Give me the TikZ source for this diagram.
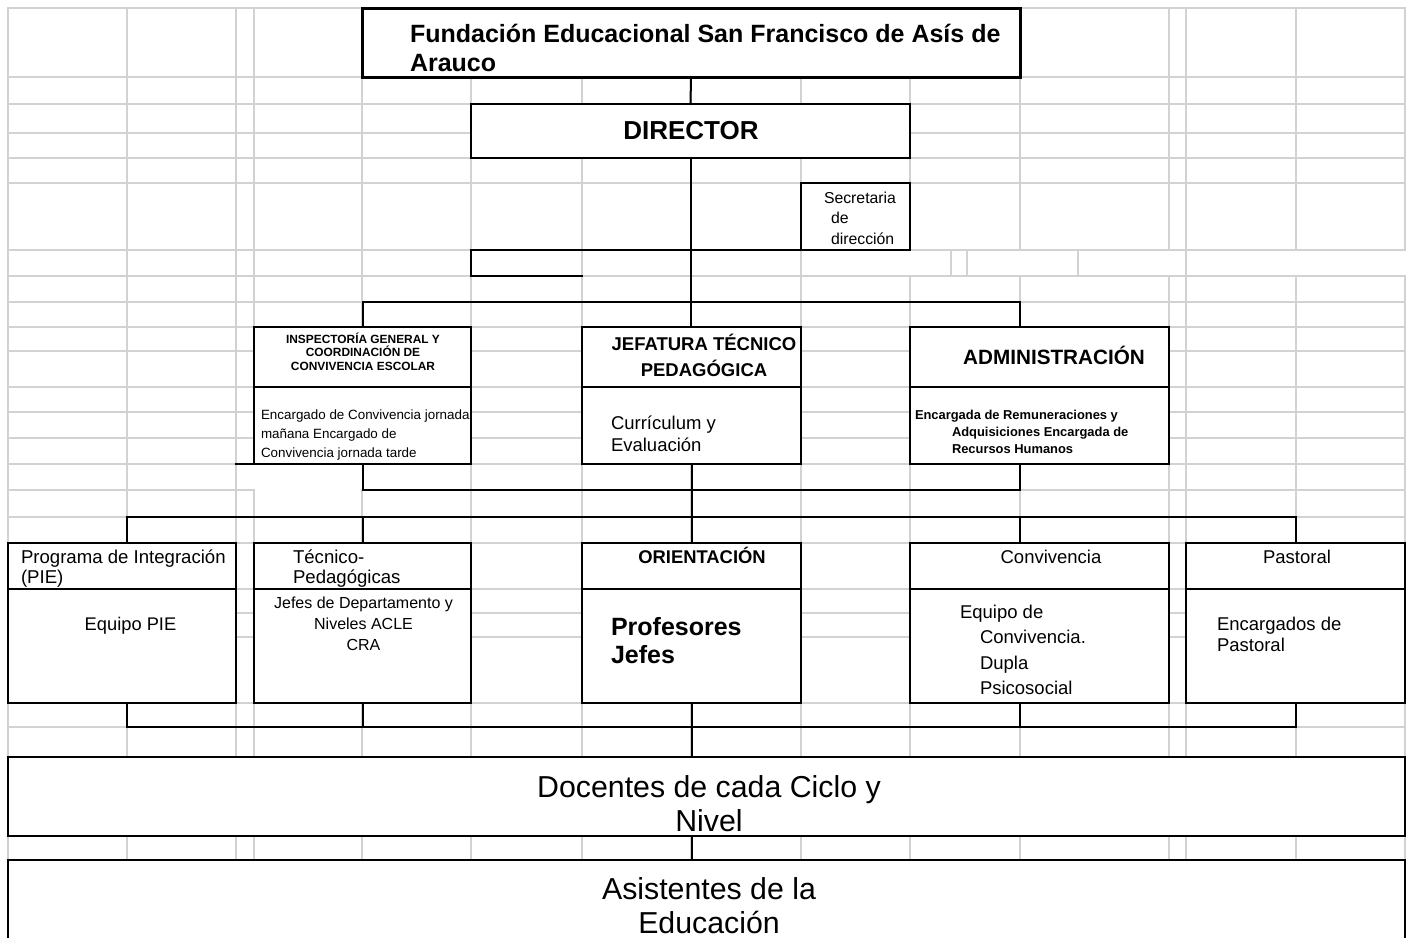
\documentclass[tikz,border=0pt]{standalone}
\usepackage{fontspec}
\setmainfont{Liberation Sans}
\definecolor{gridgray}{RGB}{210,210,210}
\newcommand\fsz[2]{\fontsize{#1}{#2}\selectfont}
\begin{document}
\begin{tikzpicture}[x=1pt,y=-1pt,
  gridline/.style={draw=gridgray, line width=1.3pt, line cap=rect},
  box/.style={draw=black, line width=2pt, fill=white, inner sep=0pt, outer sep=0pt, anchor=north west},
  conn/.style={draw=black, line width=2pt, line cap=rect},
  lbl/.style={inner sep=0pt, outer sep=0pt, text=black},
]
\useasboundingbox (0,0) rectangle (1410,937);
\clip (0,0) rectangle (1410,937);
\fill[white] (0,0) rectangle (1410,937);
% spreadsheet grid
\foreach \r in {8,77,104,133,158,183,250,276,302,327,351,387,412,438,464,490,517,543,589,613,637,703,727}
  \draw[gridline] (8,\r) -- (1405,\r);
\foreach \c in {8,127,236,254,362,471,582,691,801,910,1020,1169,1186,1296,1405}{
  \draw[gridline] (\c,8) -- (\c,757);
  \draw[gridline] (\c,836) -- (\c,860);}
% irregular cells
\fill[white] (801.8,250.8) rectangle (1410,275.2);
\foreach \c in {951,967,1078,1186} \draw[gridline] (\c,250) -- (\c,276);
\fill[white] (236.8,464.8) rectangle (470.2,489.2);
\fill[white] (254.8,489) rectangle (361.2,491);

% boxes
\node[box, line width=3pt, minimum width=658, minimum height=69] (fund) at (362,8) {};
\node[box, minimum width=439, minimum height=54] (dir) at (471,104) {};
\node[box, minimum width=109, minimum height=67] (sec) at (801,183) {};
\node[box, minimum width=217, minimum height=60] (insp1) at (254,327) {};
\node[box, minimum width=217, minimum height=77] (insp2) at (254,387) {};
\node[box, minimum width=219, minimum height=60] (jef1) at (582,327) {};
\node[box, minimum width=219, minimum height=77] (jef2) at (582,387) {};
\node[box, minimum width=259, minimum height=60] (adm1) at (910,327) {};
\node[box, minimum width=259, minimum height=77] (adm2) at (910,387) {};
\node[box, minimum width=228, minimum height=46] (pie1) at (8,543) {};
\node[box, minimum width=228, minimum height=114] (pie2) at (8,589) {};
\node[box, minimum width=217, minimum height=46] (tec1) at (254,543) {};
\node[box, minimum width=217, minimum height=114] (tec2) at (254,589) {};
\node[box, minimum width=219, minimum height=46] (ori1) at (582,543) {};
\node[box, minimum width=219, minimum height=114] (ori2) at (582,589) {};
\node[box, minimum width=259, minimum height=46] (con1) at (910,543) {};
\node[box, minimum width=259, minimum height=114] (con2) at (910,589) {};
\node[box, minimum width=219, minimum height=46] (pas1) at (1186,543) {};
\node[box, minimum width=219, minimum height=114] (pas2) at (1186,589) {};
\node[box, minimum width=1397, minimum height=79] (doc) at (8,757) {};
\node[box, minimum width=1397, minimum height=95] (asi) at (8,860) {};

% connectors
\draw[conn] (fund.south) -- (dir.north);
\draw[conn] (dir.south) -- (dir.south |- jef1.north);
\coordinate (lb) at (471,250);
\coordinate (lc) at (582,276);
\draw[conn] (sec.south west) -- (lb) |- (lc);
\coordinate (b2) at (1020,302);
\draw[conn] (insp1.north) |- (b2) -- (b2 |- adm1.north);
\coordinate (b4) at (1020,490);
\draw[conn] (insp2.south west) -- ++(-18,0);
\draw[conn] (insp2.south) |- (b4) -- (b4 |- adm2.south);
\draw[conn] (jef2.south) -- (ori1.north);
\coordinate (c1) at (127,517);
\coordinate (c2) at (1296,517);
\draw[conn] (c1 |- pie1.north) -- (c1) -- (c2) -- (c2 |- pas1.north);
\draw[conn] (tec1.north) -- (tec1.north |- c1);
\draw[conn] (b4 |- c1) -- (b4 |- con1.north);
\coordinate (d1) at (127,727);
\coordinate (d2) at (1296,727);
\draw[conn] (d1 |- pie2.south) -- (d1) -- (d2) -- (d2 |- pas2.south);
\draw[conn] (tec2.south) -- (tec2.south |- d1);
\draw[conn] (b4 |- con2.south) -- (b4 |- d1);
\draw[conn] (ori2.south) -- (ori2.south |- doc.north);
\draw[conn] (ori2.south |- doc.south) -- (ori2.south |- asi.north);

% texts (multi-line nodes: base = baseline of last line)
\node[lbl, anchor=base west, align=left, font=\bfseries\fsz{25}{29.5}] (tfund) at (410,71.5)
  {Fundación Educacional San Francisco de Asís de\\Arauco};
\node[lbl, anchor=base, font=\bfseries\fsz{26}{30}] (tdir) at (691,139) {DIRECTOR};
\node[lbl, anchor=base west, align=left, font=\fsz{15.8}{20.5}] (tsec) at (824,244)
  {Secretaria\\\hspace*{7pt}de\\\hspace*{7pt}dirección};
\node[lbl, anchor=base, align=center, font=\bfseries\fsz{11.9}{13.5}] (tinsp1) at (363,370)
  {INSPECTORÍA GENERAL Y\\COORDINACIÓN DE\\CONVIVENCIA ESCOLAR};
\node[lbl, anchor=base west, align=left, font=\fsz{13.4}{19}] (tinsp2) at (261,457)
  {Encargado de Convivencia jornada\\mañana Encargado de\\Convivencia jornada tarde};
\node[lbl, anchor=base, align=center, font=\bfseries\fsz{18.5}{26}] (tjef1) at (704,376)
  {JEFATURA TÉCNICO\\PEDAGÓGICA};
\node[lbl, anchor=base west, align=left, font=\fsz{18.5}{22}] (tjef2) at (611,451)
  {Currículum y\\Evaluación};
\node[lbl, anchor=base, font=\bfseries\fsz{20.7}{24}] (tadm1) at (1054,364) {ADMINISTRACIÓN};
\node[lbl, anchor=base west, align=left, font=\bfseries\fsz{12.9}{17.2}] (tadm2) at (915,453.4)
  {Encargada de Remuneraciones y\\\hspace*{37pt}Adquisiciones Encargada de\\\hspace*{37pt}Recursos Humanos};
\node[lbl, anchor=base west, align=left, font=\fsz{18.6}{20}] (tpie1) at (21,583)
  {Programa de Integración\\(PIE)};
\node[lbl, anchor=base, font=\fsz{18.3}{20}] (tpie2) at (130.5,630) {Equipo PIE};
\node[lbl, anchor=base west, align=left, font=\fsz{18.6}{20}] (ttec1) at (293,583)
  {Técnico-\\Pedagógicas};
\node[lbl, anchor=base, align=center, font=\fsz{16}{21.4}] (ttec2) at (363.5,650.8)
  {Jefes de Departamento y\\Niveles ACLE\\CRA};
\node[lbl, anchor=base, font=\bfseries\fsz{18.4}{20}] (tori1) at (702,563) {ORIENTACIÓN};
\node[lbl, anchor=base west, align=left, font=\bfseries\fsz{25}{28.5}] (tori2) at (611,663.5)
  {Profesores\\Jefes};
\node[lbl, anchor=base, font=\fsz{18.5}{20}] (tcon1) at (1051,563) {Convivencia};
\node[lbl, anchor=base west, align=left, font=\fsz{18.5}{25.6}] (tcon2) at (960,694.8)
  {Equipo de\\\hspace*{20pt}Convivencia.\\\hspace*{20pt}Dupla\\\hspace*{20pt}Psicosocial};
\node[lbl, anchor=base, font=\fsz{18.5}{20}] (tpas1) at (1297,563) {Pastoral};
\node[lbl, anchor=base west, align=left, font=\fsz{18.5}{21.7}] (tpas2) at (1217,651.7)
  {Encargados de\\Pastoral};
\node[lbl, anchor=base, align=center, font=\fsz{30.3}{34}] (tdoc) at (709,831)
  {Docentes de cada Ciclo y\\Nivel};
\node[lbl, anchor=base, align=center, font=\fsz{30.3}{34}] (tasi) at (709,933)
  {Asistentes de la\\Educación};
\end{tikzpicture}
\end{document}
